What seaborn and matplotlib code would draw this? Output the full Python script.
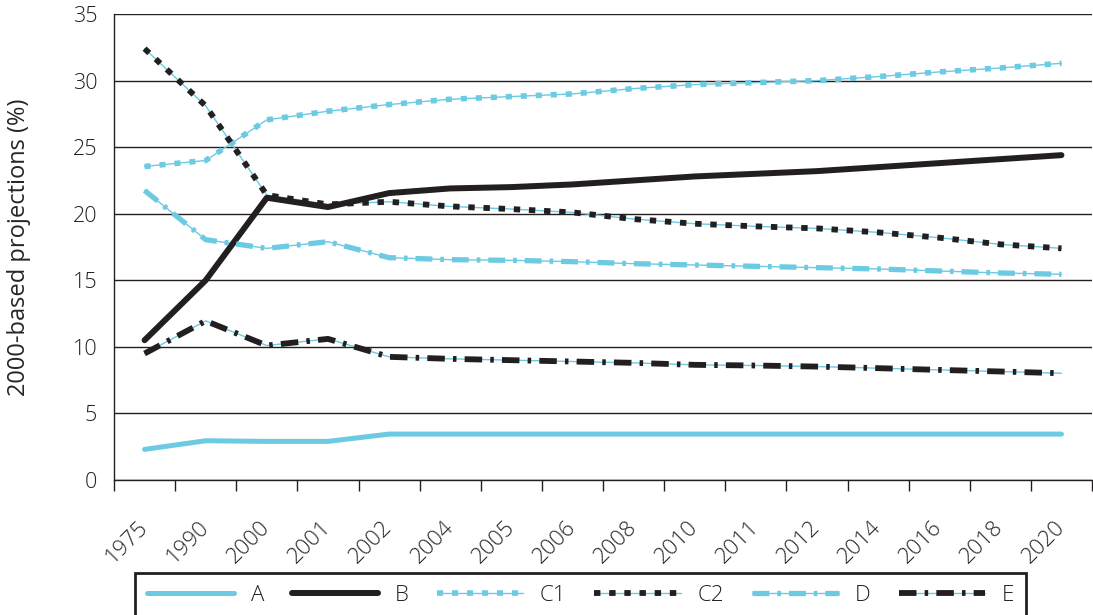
import numpy as np
import pandas as pd
import matplotlib.pyplot as plt
import matplotlib.transforms as mtransforms
import seaborn as sns
from matplotlib.lines import Line2D
from matplotlib.legend_handler import HandlerTuple

# =============================================================================
# DATOS
# =============================================================================
years = ['1975', '1990', '2000', '2001', '2002', '2004', '2005', '2006',
         '2008', '2010', '2011', '2012', '2014', '2016', '2018', '2020']

serie_a = [2.3, 2.95, 2.9, 2.9, 3.45, 3.45, 3.45, 3.45,
           3.45, 3.45, 3.45, 3.45, 3.45, 3.45, 3.45, 3.45]
serie_b = [10.5, 15.0, 21.2, 20.5, 21.55, 21.9, 22.0, 22.2,
           22.5, 22.8, 23.0, 23.2, 23.5, 23.8, 24.1, 24.4]
serie_c1 = [23.55, 24.0, 27.05, 27.7, 28.2, 28.6, 28.8, 29.0,
            29.4, 29.7, 29.85, 30.0, 30.3, 30.65, 30.95, 31.3]
serie_c2 = [32.4, 28.1, 21.4, 20.7, 20.9, 20.55, 20.35, 20.1,
            19.6, 19.25, 19.05, 18.9, 18.6, 18.2, 17.7, 17.4]
serie_d = [21.75, 18.05, 17.4, 17.9, 16.7, 16.55, 16.5, 16.4,
           16.25, 16.15, 16.05, 15.95, 15.85, 15.7, 15.55, 15.45]
serie_e = [9.5, 11.95, 10.1, 10.6, 9.25, 9.1, 9.0, 8.9,
           8.8, 8.65, 8.6, 8.52, 8.4, 8.27, 8.15, 8.02]

nombres = ['A', 'B', 'C1', 'C2', 'D', 'E']
valores = [serie_a, serie_b, serie_c1, serie_c2, serie_d, serie_e]

pos = np.arange(len(years))
df = pd.DataFrame({
    'pos': np.tile(pos, len(nombres)),
    'valor': np.concatenate(valores),
    'serie': np.repeat(nombres, len(years)),
})

# =============================================================================
# ESTILO
# =============================================================================
AZUL = '#6ccae2'
NEGRO = '#231f20'

sns.set_style('white')
plt.rcParams['font.family'] = ['Open Sans', 'DejaVu Sans']
plt.rcParams['font.weight'] = 'light'
plt.rcParams['text.color'] = NEGRO

# color, ancho, patron (None = continua), linea fina azul debajo
estilos = {
    'A': (AZUL, 3.6, None, False),
    'B': (NEGRO, 4.3, None, False),
    'C1': (AZUL, 4.0, (0, (1.1, 1.6)), True),
    'C2': (NEGRO, 4.2, (0, (1.1, 1.5)), True),
    'D': (AZUL, 3.8, (0, (3.2, 1.5, 0.7, 1.5)), True),
    'E': (NEGRO, 4.2, (0, (3.0, 1.4, 0.6, 1.4)), True),
}

fig = plt.figure(figsize=(10.93, 6.15), dpi=100)
ax = fig.add_axes([0.1043, 0.2195, 0.8948, 0.7577])

handles = []
for nombre in nombres:
    color, ancho, patron, fina = estilos[nombre]
    sub = df[df['serie'] == nombre]
    partes = []
    if fina:
        sns.lineplot(data=sub, x='pos', y='valor', ax=ax, color=AZUL,
                     linewidth=1.0, zorder=3)
        partes.append(Line2D([], [], color=AZUL, linewidth=1.0))
    if patron is None:
        sns.lineplot(data=sub, x='pos', y='valor', ax=ax, color=color,
                     linewidth=ancho, zorder=4)
        partes.append(Line2D([], [], color=color, linewidth=ancho))
    else:
        sns.lineplot(data=sub, x='pos', y='valor', ax=ax, color=color,
                     linewidth=ancho, linestyle=patron, zorder=4)
        partes.append(Line2D([], [], color=color, linewidth=ancho,
                             linestyle=patron))
    handles.append(tuple(partes))

# =============================================================================
# EJES
# =============================================================================
ax.set_xlim(-0.5, len(years) - 0.5)
ax.set_ylim(0, 35)
ax.set_yticks(np.arange(0, 36, 5))
ax.yaxis.grid(True, color=NEGRO, linewidth=1.0)
ax.set_axisbelow(True)

ax.set_xticks(np.arange(-0.5, len(years), 1.0))
ax.set_xticklabels([])
ax.set_xticks(pos, minor=True)
ax.set_xticklabels(years, minor=True, rotation=45, ha='right',
                   va='center', rotation_mode='anchor', fontsize=16)
desplazar = mtransforms.ScaledTranslation(8 / 100, 0, fig.dpi_scale_trans)
for etiqueta in ax.get_xticklabels(minor=True):
    etiqueta.set_transform(etiqueta.get_transform() + desplazar)
ax.tick_params(axis='x', which='major', length=8, width=1.0,
               color=NEGRO, direction='out', bottom=True)
ax.tick_params(axis='x', which='minor', length=0, pad=32)
ax.tick_params(axis='y', length=0, pad=12, labelsize=15.5, labelcolor=NEGRO)

for lado in ['top', 'right']:
    ax.spines[lado].set_visible(False)
for lado in ['left', 'bottom']:
    ax.spines[lado].set_color(NEGRO)
    ax.spines[lado].set_linewidth(1.0)

ax.set_xlabel('')
ax.set_ylabel('2000-based projections (%)', fontsize=17)
ax.yaxis.set_label_coords(-0.085, 0.5)

ley = fig.legend(handles, nombres, ncol=6,
                 handler_map={tuple: HandlerTuple(ndivide=1)},
                 loc='upper left', bbox_to_anchor=(135 / 1093, 1 - 573 / 615),
                 borderaxespad=0, fontsize=16, handlelength=3.9,
                 handletextpad=0.75, columnspacing=1.25, borderpad=0.55,
                 frameon=True, fancybox=False, framealpha=1)
ley.get_frame().set_edgecolor(NEGRO)
ley.get_frame().set_linewidth(2.0)

plt.savefig('out.png', dpi=100)
